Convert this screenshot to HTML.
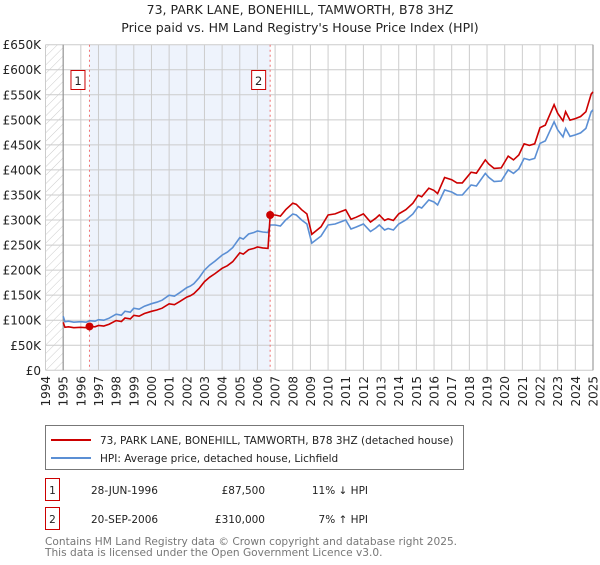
<!DOCTYPE html>
<html><head><meta charset="utf-8"><style>
body{margin:0;background:#fff;font-family:"Liberation Sans","DejaVu Sans",sans-serif;}
svg text{font-family:"DejaVu Sans","Liberation Sans",sans-serif;}
</style></head><body>
<svg id="chart" width="600" height="560" xmlns="http://www.w3.org/2000/svg">
<defs><pattern id="hatch" patternUnits="userSpaceOnUse" width="6" height="6" patternTransform="rotate(45)"><line x1="0" y1="0" x2="0" y2="6" stroke="#ccc" stroke-width="1"/></pattern></defs>
<text x="300" y="14" text-anchor="middle" font-size="12.5" fill="#222">73, PARK LANE, BONEHILL, TAMWORTH, B78 3HZ</text>
<text x="300" y="32" text-anchor="middle" font-size="12.5" fill="#222">Price paid vs. HM Land Registry's House Price Index (HPI)</text>
<g id="plot"></g>
<g>
<rect x="45.5" y="425.5" width="418" height="44" fill="#fff" stroke="#777"/>
<line x1="51" y1="440" x2="91" y2="440" stroke="#cc0000" stroke-width="2"/>
<text x="100" y="444" font-size="10.5" fill="#222">73, PARK LANE, BONEHILL, TAMWORTH, B78 3HZ (detached house)</text>
<line x1="51" y1="458" x2="91" y2="458" stroke="#5b8fd4" stroke-width="2"/>
<text x="100" y="462" font-size="10.5" fill="#222">HPI: Average price, detached house, Lichfield</text>
</g>
<g font-size="10.5" fill="#222">
<rect x="45.5" y="478.5" width="14" height="22" fill="#fff" stroke="#cc0000"/>
<text x="52.5" y="494" text-anchor="middle">1</text>
<text x="91" y="494">28-JUN-1996</text>
<text x="265" y="494" text-anchor="end">£87,500</text>
<text x="368" y="494" text-anchor="end">11% ↓ HPI</text>
</g>
<g font-size="10.5" fill="#222">
<rect x="45.5" y="507.5" width="14" height="22" fill="#fff" stroke="#cc0000"/>
<text x="52.5" y="523" text-anchor="middle">2</text>
<text x="91" y="523">20-SEP-2006</text>
<text x="265" y="523" text-anchor="end">£310,000</text>
<text x="368" y="523" text-anchor="end">7% ↑ HPI</text>
</g>
<text x="45" y="545" font-size="10.6" fill="#777">Contains HM Land Registry data © Crown copyright and database right 2025.</text>
<text x="45" y="556" font-size="10.6" fill="#777">This data is licensed under the Open Government Licence v3.0.</text>
</svg>
<script>
const hpiYears=[1995.0,1995.1,1995.3,1995.6,1996.0,1996.3,1996.5,1996.8,1997.0,1997.3,1997.6,1998.0,1998.3,1998.5,1998.8,1999.0,1999.3,1999.6,2000.0,2000.3,2000.6,2001.0,2001.3,2001.6,2002.0,2002.2,2002.4,2002.7,2003.0,2003.3,2003.6,2004.0,2004.3,2004.6,2005.0,2005.2,2005.5,2005.8,2006.0,2006.3,2006.6,2006.72,2007.0,2007.3,2007.6,2008.0,2008.2,2008.5,2008.8,2009.08,2009.3,2009.6,2010.0,2010.4,2010.7,2011.0,2011.3,2011.6,2012.0,2012.4,2012.7,2012.9,2013.2,2013.4,2013.7,2014.0,2014.4,2014.8,2015.1,2015.3,2015.7,2016.0,2016.2,2016.6,2017.0,2017.3,2017.6,2018.1,2018.4,2018.9,2019.1,2019.4,2019.8,2020.2,2020.5,2020.8,2021.1,2021.4,2021.7,2022.0,2022.3,2022.8,2023.0,2023.3,2023.45,2023.7,2024.0,2024.3,2024.6,2024.9,2025.0];
const hpiValues=[108,97,98,96,97,96,99,98,101,100,104,112,110,118,116,124,122,128,133,136,140,150,148,155,165,168,173,185,200,210,218,230,236,245,265,262,272,275,278,276,275,290,290,288,300,312,310,300,292,254,260,268,290,292,296,300,282,286,292,277,284,290,280,283,280,292,300,312,327,324,340,336,330,360,356,350,350,370,368,393,385,377,378,400,393,402,423,420,423,453,458,496,480,466,483,467,470,474,483,516,520];
const saleYears=[1996.49,2006.72];
const salePrices=[87.5,310];
const yTicks=[0,50,100,150,200,250,300,350,400,450,500,550,600,650];
const yTickLabels=["£0","£50K","£100K","£150K","£200K","£250K","£300K","£350K","£400K","£450K","£500K","£550K","£600K","£650K"];
const xTicks=[1994,1995,1996,1997,1998,1999,2000,2001,2002,2003,2004,2005,2006,2007,2008,2009,2010,2011,2012,2013,2014,2015,2016,2017,2018,2019,2020,2021,2022,2023,2024,2025];

const L=45.5,R=593,T=44.7,B=370.3;
const xS=y=>L+(y-1994)/(2025-1994)*(R-L);
const yS=v=>B-v/650*(B-T);
const NS="http://www.w3.org/2000/svg";
const g=document.getElementById('plot');
function mk(t,a,p){const e=document.createElementNS(NS,t);for(const k in a)e.setAttribute(k,a[k]);(p||g).appendChild(e);return e;}
function hpiAt(y){for(let i=1;i<hpiYears.length;i++){if(y<=hpiYears[i]){const f=(y-hpiYears[i-1])/(hpiYears[i]-hpiYears[i-1]);return hpiValues[i-1]+f*(hpiValues[i]-hpiValues[i-1]);}}return hpiValues[hpiValues.length-1];}

let bg=mk('rect',{x:xS(1994),y:T,width:xS(1995)-xS(1994),height:B-T,fill:'url(#hatch)'});


let band=mk('rect',{x:xS(saleYears[0]),y:T,width:xS(saleYears[1])-xS(saleYears[0]),height:B-T,fill:'#eef3fc'});


yTicks.forEach((v,i)=>{
 const ln=mk('line',{x1:L,x2:R,y1:yS(v),y2:yS(v),stroke:'#ccc','stroke-width':1});
 
 
 const t=mk('text',{x:41,y:yS(v)+4.5,'text-anchor':'end','font-size':12,fill:'#222'});
 t.textContent=yTickLabels[i];
 
 
});
xTicks.forEach(y=>{
 const ln=mk('line',{x1:xS(y),x2:xS(y),y1:T,y2:B,stroke:'#ccc','stroke-width':1});
 
 
 const t=mk('text',{x:0,y:0,'text-anchor':'end','font-size':12,fill:'#222',transform:`translate(${xS(y)+4.5},376) rotate(-90)`});
 t.textContent=y;
 
 
});
let ax=mk('line',{x1:xS(1995),x2:xS(1995),y1:T,y2:B,stroke:'#888'});


let ax2=mk('line',{x1:R,x2:R,y1:T,y2:B,stroke:'#888'});


saleYears.forEach((sy,i)=>{
 const ln=mk('line',{x1:xS(sy),x2:xS(sy),y1:T,y2:B,stroke:'#f07070','stroke-dasharray':'2,3'});
 
 
 const bx=mk('rect',{x:xS(sy)-18.5,y:70.5,width:14,height:19,fill:'#fff',stroke:'#cc0000'});
 
 
 const t=mk('text',{x:xS(sy)-11.5,y:85,'text-anchor':'middle','font-size':11.5,fill:'#222'});
 t.textContent=i+1;
 
 
});
let hp=hpiYears.map((y,i)=>`${i?'L':'M'}${xS(y).toFixed(1)},${yS(hpiValues[i]).toFixed(1)}`).join('');
let hl=mk('path',{d:hp,fill:'none',stroke:'#5b8fd4','stroke-width':1.6});


let rp=hpiYears.map((y,i)=>{const k=y<saleYears[1]?0:1;const v=hpiValues[i]*salePrices[k]/hpiAt(saleYears[k]);return `${i?'L':'M'}${xS(y).toFixed(1)},${yS(v).toFixed(1)}`;}).join('');
let rl=mk('path',{d:rp,fill:'none',stroke:'#cc0000','stroke-width':1.6});


saleYears.forEach((sy,i)=>{
 const c=mk('circle',{cx:xS(sy),cy:yS(salePrices[i]),r:4,fill:'#cc0000'});
 
 
});
</script>
</body></html>
